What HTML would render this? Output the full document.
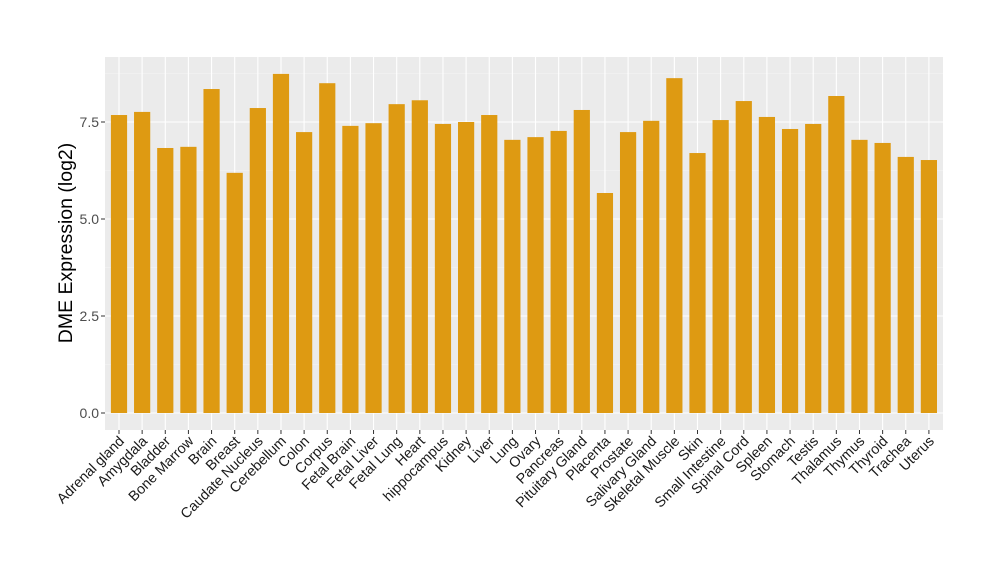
<!DOCTYPE html>
<html><head><meta charset="utf-8"><style>body{margin:0;background:#fff}svg{display:block}text{font-family:"Liberation Sans",Arial,sans-serif}</style></head>
<body>
<svg id="s" width="1000" height="580" xmlns="http://www.w3.org/2000/svg">
<rect x="105" y="57" width="838" height="373" fill="#EBEBEB"/>
<g id="g"></g>
</svg>
<script>
const names=["Adrenal gland","Amygdala","Bladder","Bone Marrow","Brain","Breast","Caudate Nucleus","Cerebellum","Colon","Corpus","Fetal Brain","Fetal Liver","Fetal Lung","Heart","hippocampus","Kidney","Liver","Lung","Ovary","Pancreas","Pituitary Gland","Placenta","Prostate","Salivary Gland","Skeletal Muscle","Skin","Small Intestine","Spinal Cord","Spleen","Stomach","Testis","Thalamus","Thymus","Thyroid","Trachea","Uterus"];
const v=[7.68,7.76,6.83,6.86,8.35,6.19,7.86,8.74,7.24,8.5,7.4,7.47,7.96,8.06,7.45,7.5,7.68,7.04,7.11,7.27,7.81,5.67,7.24,7.53,8.63,6.7,7.55,8.04,7.63,7.32,7.45,8.17,7.04,6.96,6.6,6.52];
const y0=413,k=38.8;const Y=t=>y0-t*k;
let h='';
for(let t=1.25;t<9;t+=2.5)h+=`<line x1="105" x2="943" y1="${Y(t)}" y2="${Y(t)}" stroke="#F5F5F5" stroke-width="0.6"/>`;
for(let t=0;t<=7.5;t+=2.5){h+=`<line x1="105" x2="943" y1="${Y(t)}" y2="${Y(t)}" stroke="#fff" stroke-width="1.1"/>`;
h+=`<line x1="101" x2="105" y1="${Y(t)}" y2="${Y(t)}" stroke="#333"/><text x="99" y="${Y(t)+5}" font-size="14" fill="#4D4D4D" text-anchor="end">${t.toFixed(1)}</text>`;}
names.forEach((n,i)=>{const c=119+i*23.14;
h+=`<line x1="${c}" x2="${c}" y1="57" y2="430" stroke="#fff" stroke-width="1.1"/>`;
h+=`<rect x="${c-8.1}" y="${Y(v[i])}" width="16.2" height="${v[i]*k}" fill="#DE9A12"/>`;
h+=`<line x1="${c}" x2="${c}" y1="430" y2="434" stroke="#333"/>`;
h+=`<text transform="translate(${c+6},${442}) rotate(-45)" font-size="14.3" fill="#1a1a1a" text-anchor="end">${n}</text>`;});
h+=`<text transform="translate(72,243) rotate(-90)" font-size="19.5" fill="#000" text-anchor="middle">DME Expression (log2)</text>`;
document.getElementById('g').innerHTML=h;
</script>
</body></html>
